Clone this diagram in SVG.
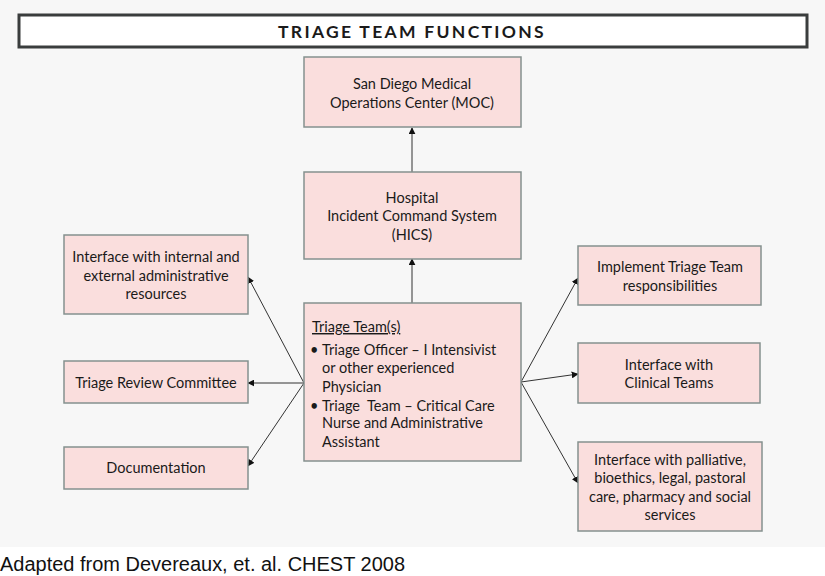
<svg xmlns="http://www.w3.org/2000/svg" width="825" height="576" viewBox="0 0 825 576">
<defs>
<style>
.node rect{fill:#fadedd;stroke:#85918f;stroke-width:1.5}
.node text{font-family:Lato,"Open Sans","DejaVu Sans",sans-serif;font-size:14.5px;fill:#1a1a1a;text-anchor:middle}
.conn line{stroke:#333;stroke-width:1;marker-end:url(#ah)}
</style>
<marker id="ah" viewBox="0 0 10 10" refX="9" refY="5" markerWidth="7" markerHeight="7" markerUnits="userSpaceOnUse" orient="auto">
<path d="M0,0 L10,5 L0,10 z" fill="#111"/>
</marker>
</defs>
<rect x="0" y="0" width="825" height="547" fill="#f7f7f7"/>
<rect x="0" y="547" width="825" height="29" fill="#ffffff"/>
<g id="title">
<rect x="19" y="15" width="788" height="32" fill="#ffffff" stroke="#3a3d3d" stroke-width="3"/>
<text x="412" y="37.5" text-anchor="middle" font-family="Lato,'DejaVu Sans',sans-serif" font-weight="bold" font-size="17.5" letter-spacing="2.3" fill="#1a1a1a">TRIAGE TEAM FUNCTIONS</text>
</g>
<g class="conn" id="connectors">
<line x1="412" y1="172" x2="412" y2="128"/>
<line x1="412" y1="303" x2="412" y2="259"/>
<line x1="304" y1="383" x2="248" y2="277"/>
<line x1="304" y1="383" x2="248" y2="383"/>
<line x1="304" y1="383" x2="248" y2="466"/>
<line x1="521" y1="382" x2="578" y2="278"/>
<line x1="521" y1="382" x2="578" y2="374"/>
<line x1="521" y1="382" x2="578" y2="483"/>
</g>
<g class="node" id="moc">
<rect x="304" y="57" width="217" height="70"/>
<text x="412" y="89">San Diego Medical</text>
<text x="412" y="108">Operations Center (MOC)</text>
</g>
<g class="node" id="hics">
<rect x="304" y="172" width="217" height="87"/>
<text x="412" y="203">Hospital</text>
<text x="412" y="221">Incident Command System</text>
<text x="412" y="240">(HICS)</text>
</g>
<g class="node" id="triage">
<rect x="304" y="303" width="217" height="158"/>
<text x="312" y="332" style="text-anchor:start;text-decoration:underline">Triage Team(s)</text>
<text x="310" y="355" style="text-anchor:start">•</text>
<text x="322" y="355" style="text-anchor:start">Triage Officer – I Intensivist</text>
<text x="322" y="373" style="text-anchor:start">or other experienced</text>
<text x="322" y="392" style="text-anchor:start">Physician</text>
<text x="310" y="411" style="text-anchor:start">•</text>
<text x="322" y="411" style="text-anchor:start" xml:space="preserve">Triage  Team – Critical Care</text>
<text x="322" y="428" style="text-anchor:start">Nurse and Administrative</text>
<text x="322" y="447" style="text-anchor:start">Assistant</text>
</g>
<g class="node" id="left1">
<rect x="64" y="235" width="184" height="79"/>
<text x="156" y="262">Interface with internal and</text>
<text x="156" y="281">external administrative</text>
<text x="156" y="299">resources</text>
</g>
<g class="node" id="left2">
<rect x="64" y="361" width="184" height="42"/>
<text x="156" y="388">Triage Review Committee</text>
</g>
<g class="node" id="left3">
<rect x="64" y="447" width="184" height="42"/>
<text x="156" y="473">Documentation</text>
</g>
<g class="node" id="right1">
<rect x="578" y="246" width="183" height="59"/>
<text x="670" y="272">Implement Triage Team</text>
<text x="670" y="291">responsibilities</text>
</g>
<g class="node" id="right2">
<rect x="578" y="343" width="182" height="60"/>
<text x="669" y="370">Interface with</text>
<text x="669" y="388">Clinical Teams</text>
</g>
<g class="node" id="right3">
<rect x="578" y="442" width="184" height="89"/>
<text x="670" y="465">Interface with palliative,</text>
<text x="670" y="483">bioethics, legal, pastoral</text>
<text x="670" y="502">care, pharmacy and social</text>
<text x="670" y="520">services</text>
</g>
<text x="0" y="571" font-family="'Liberation Sans',Arial,sans-serif" font-size="20" fill="#111" textLength="405" lengthAdjust="spacingAndGlyphs">Adapted from Devereaux, et. al. CHEST 2008</text>
</svg>
